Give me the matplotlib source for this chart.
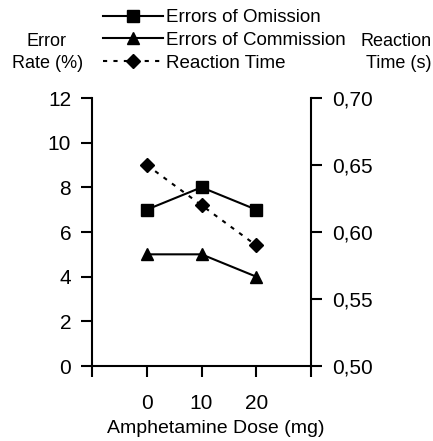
import matplotlib
matplotlib.use('Agg')
import matplotlib.pyplot as plt
from matplotlib.ticker import FuncFormatter

plt.rcParams['font.family'] = ['Liberation Sans', 'DejaVu Sans']

# data
doses = ['0', '10', '20']
omission = [7, 8, 7]            # Error rate (%)
commission = [5, 5, 4]          # Error rate (%)
reaction_time = [0.65, 0.62, 0.59]  # seconds

def main():
    fig = plt.figure(figsize=(4.33, 4.41), dpi=100)
    ax = fig.add_axes([92 / 433, 75 / 441, 219 / 433, 268 / 441])
    ax2 = ax.twinx()

    xpos = list(range(1, len(doses) + 1))

    l1, = ax.plot(xpos, omission, color='black', lw=1.5, marker='s', ms=8)
    l2, = ax.plot(xpos, commission, color='black', lw=1.5, marker='^', ms=8.5)
    l3, = ax2.plot(xpos, reaction_time, color='black', lw=1.5, marker='D',
                   ms=7.5, linestyle=(0, (2, 3)))

    ax.set_xlim(0, len(doses) + 1)
    ax.set_xticks(range(0, len(doses) + 2))
    ax.set_xticklabels([''] + doses + [''])
    ax.set_ylim(0, 12)
    ax.set_yticks(range(0, 13, 2))
    ax2.set_ylim(0.5, 0.7)
    ax2.set_yticks([0.50, 0.55, 0.60, 0.65, 0.70])
    ax2.yaxis.set_major_formatter(
        FuncFormatter(lambda v, p: ('%.2f' % v).replace('.', ',')))

    for a in (ax, ax2):
        a.spines['top'].set_visible(False)
        for s in a.spines.values():
            s.set_linewidth(1.5)
    ax2.spines['left'].set_visible(False)
    ax2.spines['bottom'].set_visible(False)
    ax.spines['right'].set_visible(False)

    ax.tick_params(axis='x', length=8, width=1.5, pad=12, labelsize=15)
    ax.tick_params(axis='y', length=8, width=1.5, pad=7, labelsize=15)
    ax2.tick_params(axis='y', length=8, width=1.5, pad=7, labelsize=15)

    ax.set_xlabel('Amphetamine Dose (mg)', fontsize=14, labelpad=6)
    ax.xaxis.set_label_coords(0.563, -0.2)

    fig.text(47 / 433, 1 - 41 / 441, 'Error', ha='center', va='center',
             fontsize=13)
    fig.text(48 / 433, 1 - 63 / 441, 'Rate (%)', ha='center', va='center',
             fontsize=13)
    fig.text(396 / 433, 1 - 41 / 441, 'Reaction', ha='center', va='center',
             fontsize=13)
    fig.text(431 / 433, 1 - 63 / 441, 'Time (s)', ha='right', va='center',
             fontsize=13)

    fig.legend([l1, l2, l3],
               ['Errors of Omission', 'Errors of Commission', 'Reaction Time'],
               loc='upper left', bbox_to_anchor=(103 / 433, 1 - 9 / 441),
               frameon=False, fontsize=13.5, handlelength=3.2,
               handletextpad=0.15, labelspacing=0.3, borderpad=0,
               borderaxespad=0)

    fig.savefig('out.png', dpi=100)

if __name__ == "__main__":
    main()
